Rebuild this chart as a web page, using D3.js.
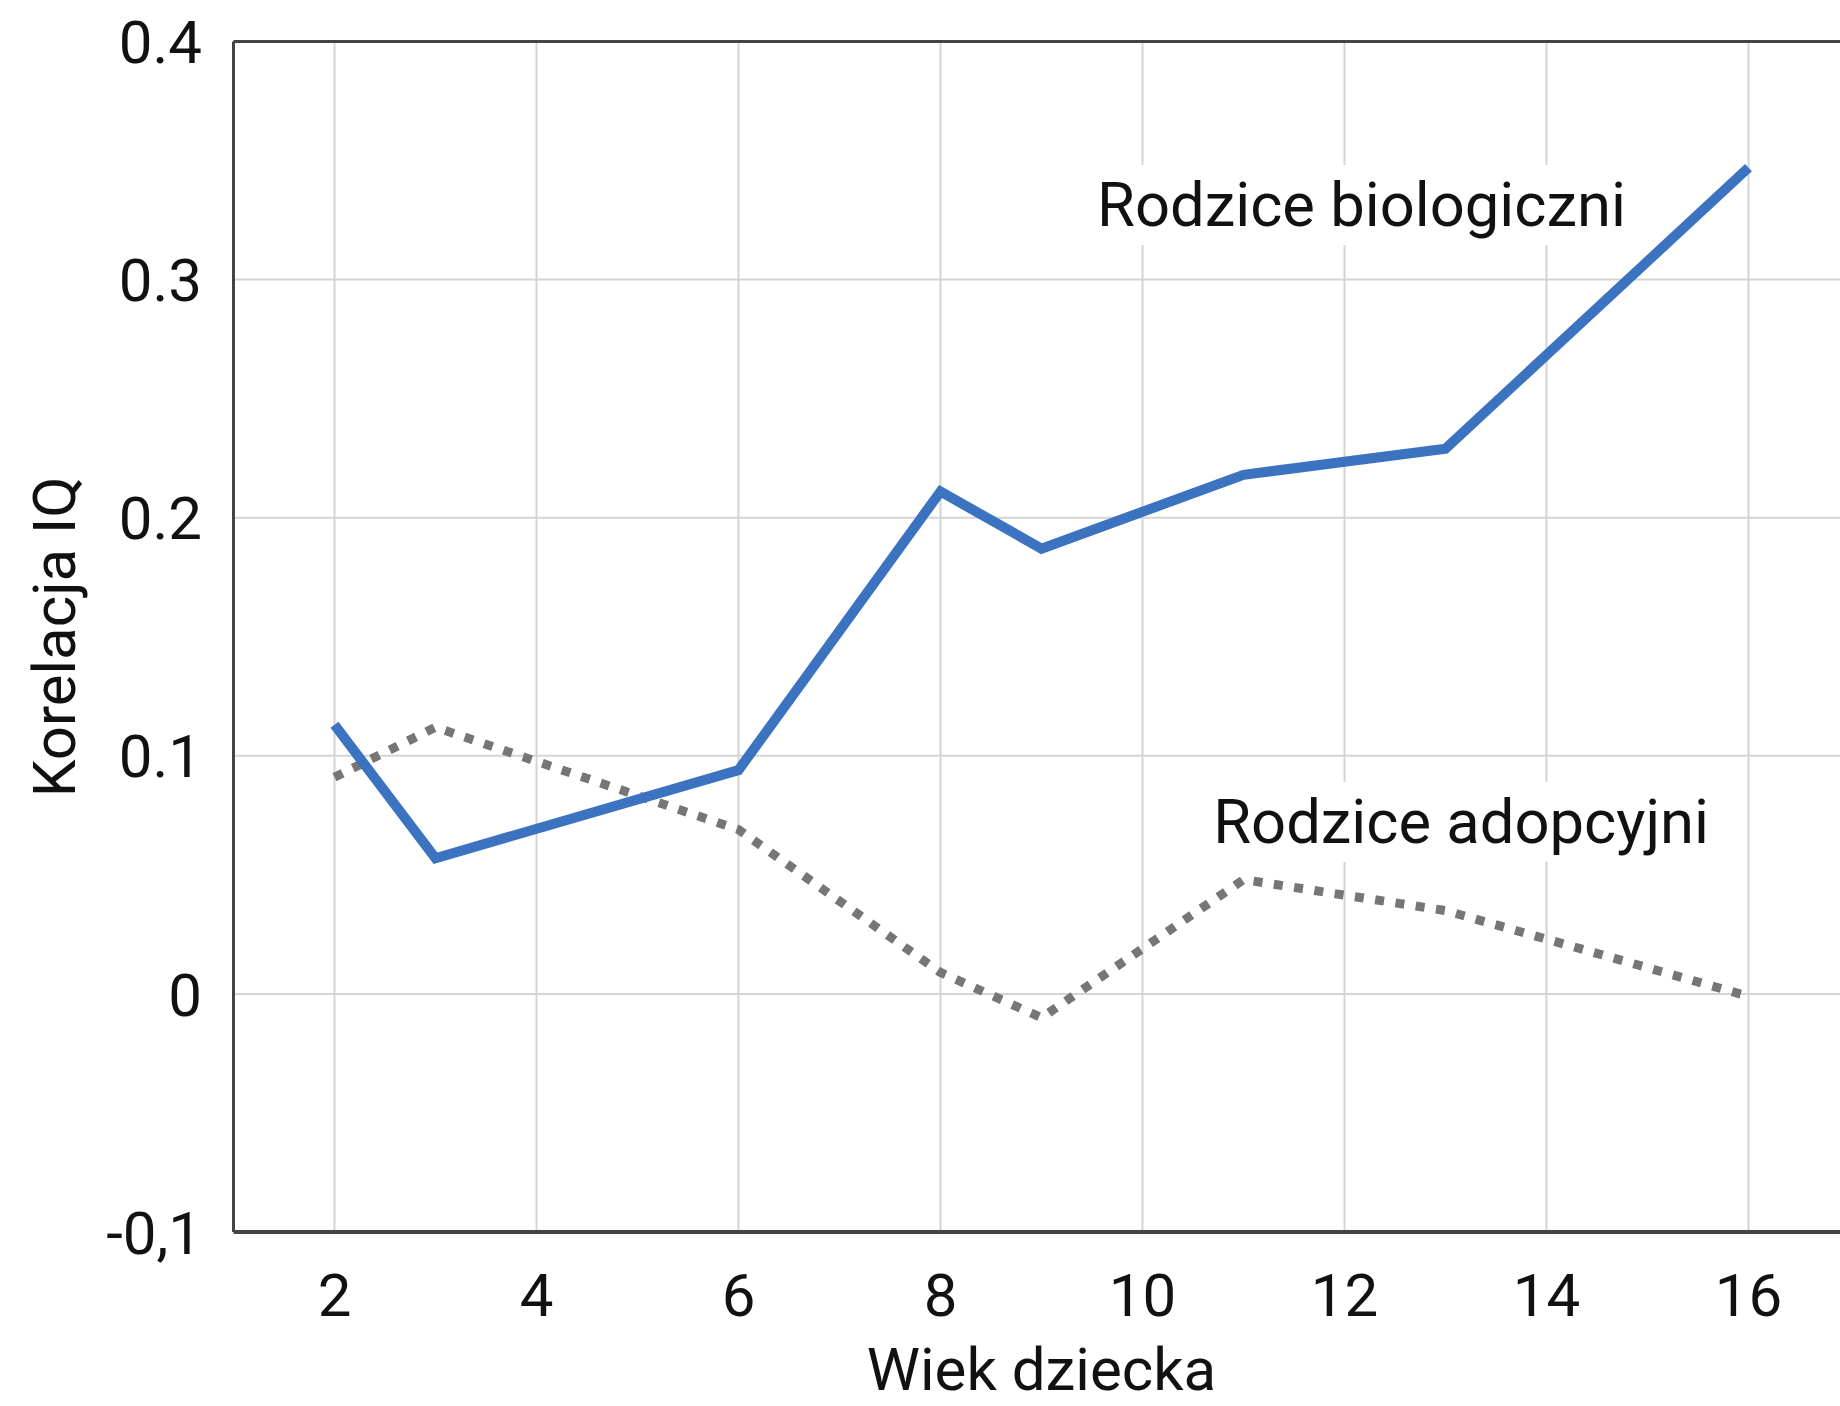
<!DOCTYPE html>
<html>
<head>
<meta charset="utf-8">
<script src="https://cdn.jsdelivr.net/npm/d3@7"></script>
<style>
  body { margin: 0; background: #fff; }
  text { font-family: Roboto, "Noto Sans", sans-serif; fill: #111; }
</style>
</head>
<body>
<div id="scene"></div>
<script>
const ages = [2, 3, 6, 8, 9, 11, 13, 16];
const biological = [0.113, 0.057, 0.094, 0.211, 0.187, 0.218, 0.229, 0.347];
const adoptive = [0.091, 0.112, 0.069, 0.009, -0.010, 0.048, 0.035, -0.001];
const xTicks = [2, 4, 6, 8, 10, 12, 14, 16];
const yTicks = [-0.1, 0, 0.1, 0.2, 0.3, 0.4];
const yTickLabels = ["-0,1", "0", "0.1", "0.2", "0.3", "0.4"];

const width = 1840, height = 1406;
const svg = d3.select("#scene").append("svg")
  .attr("width", width)
  .attr("height", height);

// plot runs off the right edge, like the original
const x = d3.scaleLinear().domain([1, 17]).range([233.5, 1849.5]);
const y = d3.scaleLinear().domain([-0.1, 0.4]).range([1232, 41.5]);

// grid
svg.append("g")
  .selectAll("line")
  .data(xTicks)
  .join("line")
  .attr("x1", d => x(d)).attr("x2", d => x(d))
  .attr("y1", y(0.4)).attr("y2", y(-0.1))
  .style("stroke", "#d4d4d4")
  .style("stroke-width", 2);

svg.append("g")
  .selectAll("line")
  .data(yTicks.filter(d => d > -0.1 && d < 0.4))
  .join("line")
  .attr("x1", x(1)).attr("x2", x(17))
  .attr("y1", d => y(d)).attr("y2", d => y(d))
  .style("stroke", "#d4d4d4")
  .style("stroke-width", 2);

// annotation labels with white boxes over the grid
const labels = [
  { text: "Rodzice biologiczni", age: 9.55, value: 0.3225 },
  { text: "Rodzice adopcyjni", age: 10.7, value: 0.0634 }
];

labels.forEach(l => {
  const g = svg.append("g");
  const t = g.append("text")
    .attr("x", x(l.age))
    .attr("y", y(l.value))
    .style("font-size", "61.5px")
    .text(l.text);
  const bb = t.node().getBBox();
  g.insert("rect", "text")
    .attr("x", bb.x - 6).attr("y", bb.y - 4)
    .attr("width", bb.width + 12).attr("height", bb.height + 8)
    .style("fill", "#fff");
});

// frame
svg.append("line")
  .attr("x1", x(1)).attr("x2", x(17))
  .attr("y1", y(0.4)).attr("y2", y(0.4))
  .style("stroke", "#444").style("stroke-width", 3);
svg.append("line")
  .attr("x1", x(1)).attr("x2", x(1))
  .attr("y1", y(0.4)).attr("y2", y(-0.1))
  .style("stroke", "#444").style("stroke-width", 3);
svg.append("line")
  .attr("x1", x(1)).attr("x2", x(17))
  .attr("y1", y(-0.1)).attr("y2", y(-0.1))
  .style("stroke", "#444").style("stroke-width", 4);

const line = d3.line()
  .x(d => x(d[0]))
  .y(d => y(d[1]));

svg.append("path")
  .datum(d3.zip(ages, adoptive))
  .attr("d", line)
  .style("fill", "none")
  .style("stroke", "#767676")
  .style("stroke-width", 9)
  .style("stroke-dasharray", "9 11.5");

svg.append("path")
  .datum(d3.zip(ages, biological))
  .attr("d", line)
  .style("fill", "none")
  .style("stroke", "#3b73c0")
  .style("stroke-width", 10);

// tick labels
svg.append("g")
  .selectAll("text")
  .data(yTicks)
  .join("text")
  .attr("x", 202)
  .attr("y", d => y(d))
  .attr("dy", "0.36em")
  .style("text-anchor", "end")
  .style("font-size", "60px")
  .text((d, i) => yTickLabels[i]);

svg.append("g")
  .selectAll("text")
  .data(xTicks)
  .join("text")
  .attr("x", d => x(d))
  .attr("y", 1316)
  .style("text-anchor", "middle")
  .style("font-size", "60px")
  .text(d => d);

svg.append("text")
  .attr("x", (x(1) + x(17)) / 2)
  .attr("y", 1390)
  .style("text-anchor", "middle")
  .style("font-size", "60px")
  .text("Wiek dziecka");

svg.append("text")
  .attr("transform", `translate(53, ${(y(0.4) + y(-0.1)) / 2}) rotate(-90)`)
  .attr("dy", "0.36em")
  .style("text-anchor", "middle")
  .style("font-size", "60px")
  .text("Korelacja IQ");
</script>
</body>
</html>
